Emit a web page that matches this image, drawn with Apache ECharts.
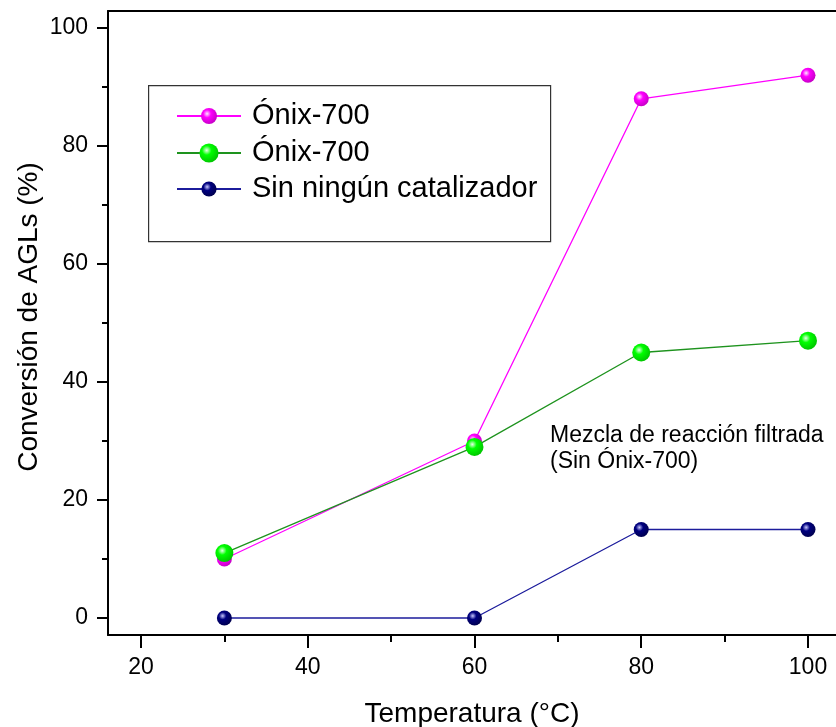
<!DOCTYPE html>
<html>
<head>
<meta charset="utf-8">
<style>
  html, body { margin: 0; padding: 0; background: #fff; }
  #chart { width: 836px; height: 727px; }
</style>
<script src="https://cdn.jsdelivr.net/npm/echarts@6/dist/echarts.min.js"></script>
</head>
<body>
<div id="chart"></div>
<script>
// Reaction temperatures (°C)
const temperatures = [30, 60, 80, 100];
// FFA conversion (%) for each run
const onixA = [10, 30, 88, 92];
const onixB = [11, 29, 45, 47];
const noCatalyst = [0, 0, 15, 15];

const xMajorTicks = [20, 40, 60, 80, 100];
const xMinorTicks = [30, 50, 70, 90];
const yMajorTicks = [0, 20, 40, 60, 80, 100];
const yMinorTicks = [10, 30, 50, 70, 90];

const legendLabels = {
  onixA: 'Ónix-700',
  onixB: 'Ónix-700',
  none: 'Sin ningún catalizador'
};

const FONT = '"Liberation Sans", Arial, sans-serif';

function sphere(light, base, dark) {
  return {
    type: 'radial', x: 0.38, y: 0.36, r: 0.7,
    colorStops: [
      { offset: 0, color: light },
      { offset: 0.35, color: base },
      { offset: 1, color: dark }
    ]
  };
}

function pairs(ys) {
  return temperatures.map((t, i) => [t, ys[i]]);
}

const chart = echarts.init(document.getElementById('chart'), null, { renderer: 'canvas' });

const xMin = 16.04, xMax = 103.36;
const yMin = -2.88, yMax = 102.88;

function legendFor(name, top, itemHeight) {
  return {
    data: [name],
    left: 176,
    top: top,
    padding: 0,
    itemWidth: 64,
    itemHeight: itemHeight,
    selectedMode: false,
    formatter: n => legendLabels[n],
    textStyle: { fontFamily: FONT, fontSize: 29, color: '#000', lineHeight: 34, padding: [0, 0, 0, 6] }
  };
}

// tick-only axis (no line, no labels) used for major and minor tick marks
function tickAxis(position, min, max, values, len) {
  return {
    type: 'value', position: position, min: min, max: max,
    axisLine: { show: false, onZero: false },
    axisTick: { show: true, customValues: values, length: len, lineStyle: { color: '#000', width: 2 } },
    axisLabel: { show: false },
    splitLine: { show: false }
  };
}

chart.setOption({
  animation: false,
  backgroundColor: '#fff',
  grid: { left: 108, top: 11, right: 0, bottom: 92, containLabel: false, outerBoundsMode: 'none' },
  xAxis: [
    {
      type: 'value', position: 'bottom', min: xMin, max: xMax,
      name: 'Temperatura (°C)', nameLocation: 'middle', nameGap: 65, nameMoveOverlap: false,
      nameTextStyle: { fontFamily: FONT, fontSize: 28, color: '#000' },
      axisLine: { show: true, onZero: false, lineStyle: { color: '#000', width: 2 } },
      axisTick: { show: false },
      axisLabel: { customValues: xMajorTicks, margin: 21, fontFamily: FONT, fontSize: 23, color: '#000' },
      splitLine: { show: false }
    },
    tickAxis('bottom', xMin, xMax, xMajorTicks, 13),
    tickAxis('bottom', xMin, xMax, xMinorTicks, 7),
    {
      type: 'value', position: 'top', min: xMin, max: xMax,
      axisLine: { show: true, onZero: false, lineStyle: { color: '#000', width: 2 } },
      axisTick: { show: false },
      axisLabel: { show: false },
      splitLine: { show: false }
    }
  ],
  yAxis: [
    {
      type: 'value', position: 'left', min: yMin, max: yMax,
      name: 'Conversión de AGLs (%)', nameLocation: 'middle', nameGap: 65, nameMoveOverlap: false,
      nameTextStyle: { fontFamily: FONT, fontSize: 28, color: '#000', padding: [0, 0, 0, 12] },
      axisLine: { show: true, onZero: false, lineStyle: { color: '#000', width: 2 } },
      axisTick: { show: false },
      axisLabel: { customValues: yMajorTicks, margin: 20, fontFamily: FONT, fontSize: 23, color: '#000' },
      splitLine: { show: false }
    },
    tickAxis('left', yMin, yMax, yMajorTicks, 11),
    tickAxis('left', yMin, yMax, yMinorTicks, 6)
  ],
  legend: [
    legendFor('onixA', 99, 20),
    legendFor('onixB', 136, 24),
    legendFor('none', 172, 19)
  ],
  graphic: [
    {
      type: 'rect', left: 148, top: 85, z: -1,
      shape: { width: 402, height: 156 },
      style: { fill: '#fff', stroke: '#333', lineWidth: 1.2 }
    },
    {
      type: 'text', left: 550, top: 423,
      style: {
        text: 'Mezcla de reacción filtrada\n(Sin Ónix-700)',
        font: '23px ' + FONT, fill: '#000', lineHeight: 26
      }
    }
  ],
  series: [
    {
      name: 'onixA', type: 'line', data: pairs(onixA),
      symbol: 'circle', symbolSize: 15,
      lineStyle: { color: '#ff00ff', width: 1.3 },
      itemStyle: { color: sphere('#ffe6ff', '#ff00ff', '#c000c0') },
      z: 2
    },
    {
      name: 'onixB', type: 'line', data: pairs(onixB),
      symbol: 'circle', symbolSize: 18,
      lineStyle: { color: '#1e931e', width: 1.3 },
      itemStyle: { color: sphere('#e6ffe6', '#00ff00', '#00c000') },
      z: 3
    },
    {
      name: 'none', type: 'line', data: pairs(noCatalyst),
      symbol: 'circle', symbolSize: 15,
      lineStyle: { color: '#1c1c9c', width: 1.3 },
      itemStyle: { color: sphere('#c8c8ff', '#000080', '#00004a') },
      z: 4
    }
  ]
});
</script>
</body>
</html>
